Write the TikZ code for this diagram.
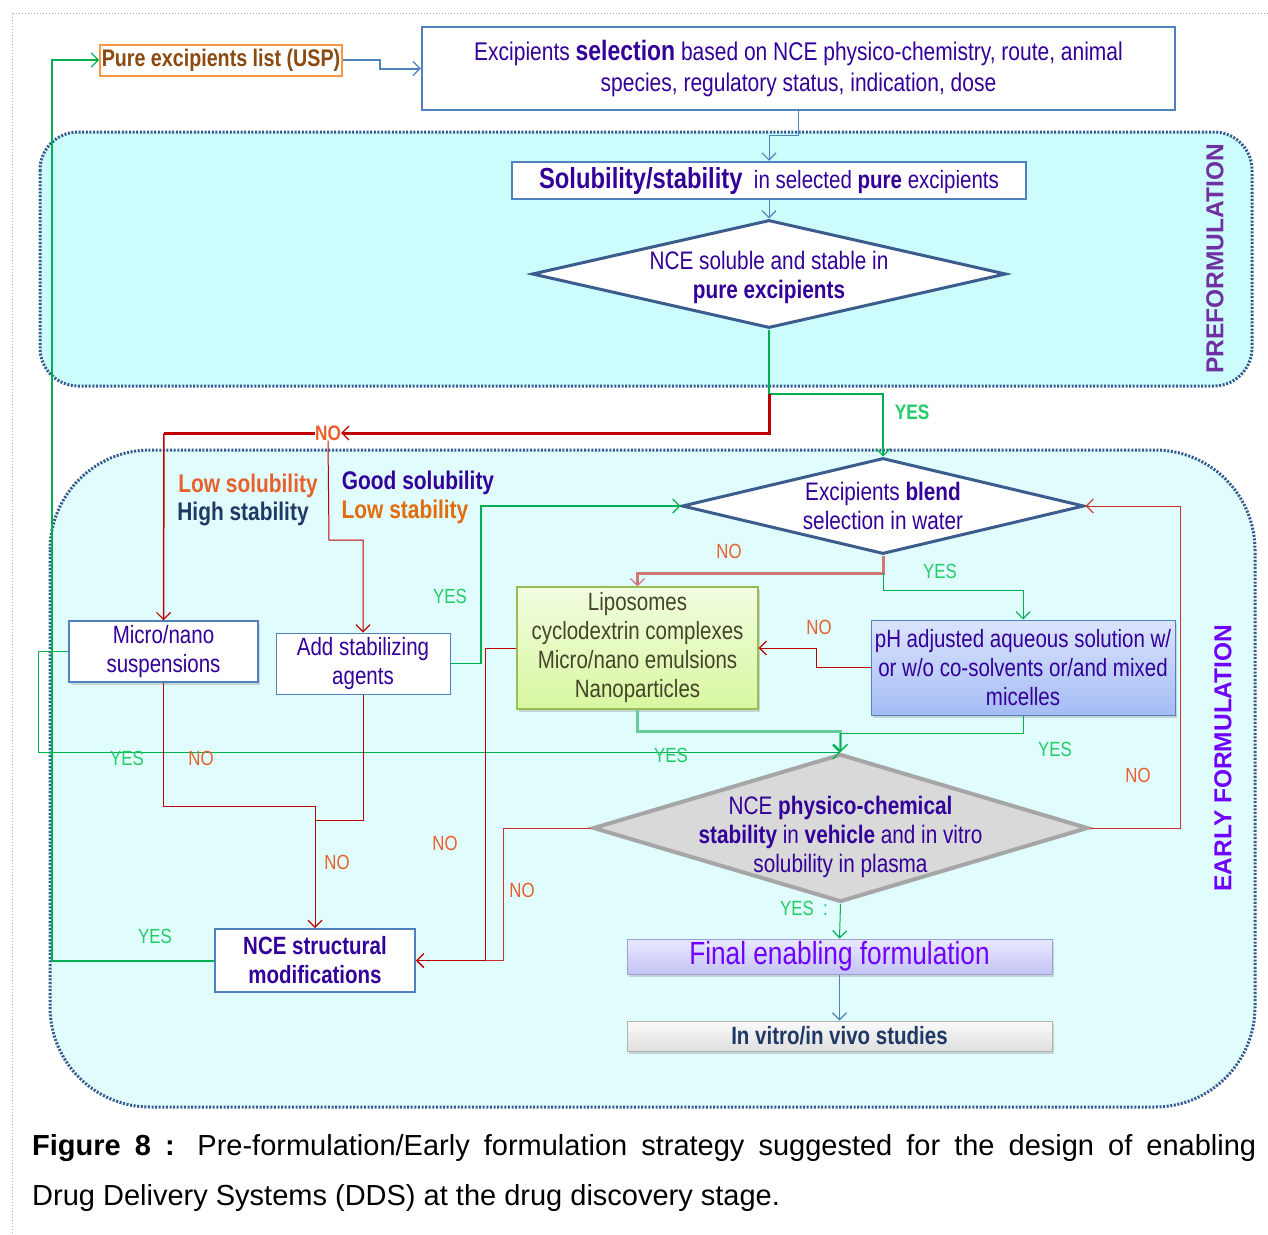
\documentclass[tikz,border=0pt]{standalone}
\usepackage{fontspec}
\setmainfont{Liberation Sans}
\newfontfamily\nar{Liberation Sans}[FakeStretch=0.82]
\usetikzlibrary{arrows.meta,shapes.geometric,shadows}
\newcommand\fsz[2]{\fontsize{#1}{#2}\selectfont}
\definecolor{ind}{HTML}{330099}
\definecolor{bbord}{HTML}{4F81BD}
\definecolor{dbord}{HTML}{3B5C8C}
\definecolor{regb}{HTML}{335A8E}
\definecolor{pref}{HTML}{CCFCFC}
\definecolor{early}{HTML}{E0FCFC}
\definecolor{gline}{HTML}{00B050}
\definecolor{glight}{HTML}{66CC99}
\definecolor{glab}{HTML}{22CC66}
\definecolor{rline}{HTML}{C00000}
\definecolor{rthin}{HTML}{D03030}
\definecolor{rpink}{HTML}{D07878}
\definecolor{olab}{HTML}{E8602C}
\definecolor{brownc}{HTML}{8B4A10}
\definecolor{orangeb}{HTML}{F79646}
\definecolor{purp}{HTML}{7030A0}
\definecolor{viol}{HTML}{7000FF}
\definecolor{navy}{HTML}{1F3864}
\definecolor{lowst}{HTML}{E36C0A}
\definecolor{olive}{HTML}{44442A}
\definecolor{lipob}{HTML}{9BBB59}
\definecolor{lipot}{HTML}{F2FDE0}
\definecolor{lipobot}{HTML}{D8F7A0}
\definecolor{pht}{HTML}{DCE4FC}
\definecolor{phb}{HTML}{A4BCF4}
\definecolor{fint}{HTML}{E8E8FF}
\definecolor{finb}{HTML}{C4C4F4}
\definecolor{finbd}{HTML}{A0A0D0}
\definecolor{d3fill}{HTML}{D9D9D9}
\definecolor{d3bord}{HTML}{A6A6A6}
\tikzset{
  box/.style={draw=bbord, fill=white, line width=1.5pt, inner sep=0pt, align=center, text=ind, font=\nar\fsz{25}{29}},
  dia/.style={diamond, draw=dbord, line width=3pt, fill=white, inner sep=0pt},
  txt/.style={align=center, text=ind, font=\nar\fsz{25.3}{29}, inner sep=0pt},
  lab/.style={font=\nar\fsz{20.5}{22}, inner sep=0pt},
  yes/.style={lab, text=glab},
  nolab/.style={lab, text=olab},
  big/.style={inner sep=0pt, font=\nar\bfseries\fsz{25.5}{28}},
  arr/.style={-{Straight Barb[length=7pt,width=14pt,line width=1.2pt]}},
  shad/.style={drop shadow={shadow xshift=2pt,shadow yshift=-3pt,opacity=0.3}}
}
\begin{document}
\begin{tikzpicture}[x=1pt,y=-1pt]
\useasboundingbox (0,0) rectangle (1268,1234);
% outer frame
\draw[gray!70, dotted, line width=1pt] (1268,13) -- (12,13) -- (12,1234);
% regions
\draw[regb, line width=3pt, dash pattern=on 2pt off 1.6pt, fill=pref, rounded corners=38pt] (40,132) rectangle (1252,386);
\draw[regb, line width=3pt, dash pattern=on 2pt off 1.6pt, fill=early, rounded corners=100pt] (50,450) rectangle (1255,1107);
\node[rotate=90, inner sep=0pt, font=\bfseries\fsz{24.5}{26}, text=purp] (plab) at (1215,259) {PREFORMULATION};
\node[rotate=90, inner sep=0pt, font=\bfseries\fsz{24.5}{26}, text=viol] (elab) at (1223,758) {EARLY FORMULATION};

% nodes
\node[box, draw=orangeb, line width=2pt, minimum width=242pt, minimum height=31pt, text=brownc, font=\nar\bfseries\fsz{24}{26}] (pure) at (221,60) {Pure excipients list (USP)};
\node[box, line width=2.5pt, minimum width=753pt, minimum height=83pt, font=\nar\fsz{25.6}{31}] (excip) at (798.5,68.5) {Excipients {\fsz{28}{31}\bfseries selection} based on NCE physico-chemistry, route, animal\\ species, regulatory status, indication, dose};
\node[box, line width=2.5pt, minimum width=514pt, minimum height=37pt] (solub) at (769,180.5) {{\fsz{29}{32}\bfseries Solubility/stability}\ \ in selected \textbf{pure} excipients};
\node[dia, minimum width=474pt, minimum height=108pt] (d1) at (769,274) {};
\node[txt] (d1t) at (769,277) {NCE soluble and stable in\\ \textbf{pure excipients}};
\node[dia, minimum width=402pt, minimum height=96pt] (blend) at (883,506) {};
\node[txt] (blendt) at (883,506) {Excipients \textbf{blend}\\ selection in water};
\node[box, shad, minimum width=189pt, minimum height=61pt] (micro) at (163.5,651.5) {Micro/nano\\ suspensions};
\node[box, line width=1pt, minimum width=174pt, minimum height=61pt] (addst) at (363,663.5) {Add stabilizing\\ agents};
\node[box, shad, draw=lipob, line width=1.2pt, top color=lipot, bottom color=lipobot, text=olive, minimum width=241pt, minimum height=122pt] (lipo) at (637.5,648) {Liposomes\\ cyclodextrin complexes\\ Micro/nano emulsions\\ Nanoparticles};
\node[box, shad, line width=1pt, top color=pht, bottom color=phb, minimum width=304pt, minimum height=95pt] (ph) at (1023,667.5) {pH adjusted aqueous solution w/\\ or w/o co-solvents or/and mixed\\ micelles};
\node[dia, fill=d3fill, draw=d3bord, line width=4pt, minimum width=495pt, minimum height=148pt] (d3) at (840.5,828) {};
\node[txt] (d3t) at (840.5,837) {NCE \textbf{physico-chemical}\\ \textbf{stability} in \textbf{vehicle} and in vitro\\ solubility in plasma};
\node[box, line width=2pt, minimum width=200pt, minimum height=63pt, font=\nar\bfseries\fsz{25}{29}] (nces) at (315,960.5) {NCE structural\\ modifications};
\node[box, shad, draw=finbd, line width=1pt, top color=fint, bottom color=finb, text=viol, minimum width=425pt, minimum height=35pt, font=\nar\fsz{32}{34}] (final) at (839.5,956.5) {Final enabling formulation};
\node[box, shad, draw=gray!60, line width=1pt, top color=gray!4, bottom color=gray!25, text=navy, minimum width=425pt, minimum height=30pt, font=\nar\bfseries\fsz{25}{28}] (invitro) at (839.5,1036) {In vitro/in vivo studies};

% side labels
\node[big, text=olab] (ls) at (248,486) {Low solubility};
\node[big, text=navy] (hs) at (243,514) {High stability};
\node[big, text=ind] (gs) at (418,483) {Good solubility};
\node[big, text=lowst] (lst) at (405,512) {Low stability};

% connectors
\draw[bbord, line width=2pt, arr] (pure.east) -- (380,60) -- (380,68.5) -- (excip.west);
\draw[bbord, line width=1pt, arr] (excip.south) |- (769,135) -- (solub.north);
\draw[bbord, line width=1pt, arr] (solub.south) -- (d1.north);
\coordinate (split1) at (769,394);
\draw[gline, line width=2.5pt, arr] (d1.south) |- (883,394) -- (blend.north);
\node[lab, font=\nar\bfseries\fsz{21}{22}, text=glab] (yes1) at (912,412) {YES};
\node[lab, font=\nar\bfseries\fsz{21}{22}, text=olab] (no1) at (328,433) {NO};
\draw[rline, line width=3pt, arr] (split1) |- (no1.east);
\draw[rline, line width=3pt] (no1.west) -- (164,433);
\draw[rline, line width=1.5pt, arr] (164,433) -- (micro.north);
\draw[rline, line width=1pt, arr] (no1.south) -- (329,540) -| (addst.north);
\draw[gline, line width=1.2pt, arr] (addst.east) -- (481,663.5) |- (blend.west);
\node[yes] (yes2) at (450,596) {YES};
\coordinate (split2) at (883,573);
\draw[rpink, line width=3pt, arr] (blend.south) -- (split2) -| (lipo.north);
\node[nolab] (no2) at (729,551) {NO};
\draw[gline, line width=1pt, arr] (split2) -- (883,590) -| (ph.north);
\node[yes] (yes3) at (940,571) {YES};
\draw[rline, line width=1pt, arr] (ph.west) -- (816,667.5) -- (816,648) -- (lipo.east);
\node[nolab] (no3) at (819,627) {NO};
\draw[glight, line width=3pt, arr] (lipo.south) |- (840.5,731) -- (d3.north);
\draw[gline, line width=1pt, arr] (ph.south) |- (840.5,733) -- (d3.north);
\draw[gline, line width=1pt, arr] (micro.west) -- (38,651.5) |- (d3.north);
\node[yes] (yes4) at (127,758) {YES};
\node[yes] (yes5) at (671,755) {YES};
\node[yes] (yes6) at (1055,749) {YES};
\draw[rline, line width=1pt, arr] (micro.south) |- (315,806) -- (nces.north);
\draw[rline, line width=1pt] (addst.south) |- (315,820);
\node[nolab] (no4) at (201,758) {NO};
\node[nolab] (no5) at (337,862) {NO};
\draw[rthin, line width=1pt, arr] (d3.west) -- (503,828) |- (nces.east);
\draw[rline, line width=1pt, arr] (lipo.west) -- (485,648) |- (nces.east);
\node[nolab] (no6) at (445,843) {NO};
\node[nolab] (no7) at (522,890) {NO};
\draw[rthin, line width=1pt, arr] (d3.east) -- (1180,828) |- (blend.east);
\node[nolab] (no8) at (1138,775) {NO};
\draw[gline, line width=1pt, arr] (d3.south) -- (final.north);
\node[yes] (yes7) at (804,908) {YES\ \ :};
\draw[bbord, line width=1pt, arr] (final.south) -- (invitro.north);
\draw[gline, line width=2pt, arr] (nces.west) -- (52,960.5) |- (pure.west);
\node[yes] (yes8) at (155,936) {YES};

% caption
\node[anchor=north west, text width=1224pt, align=justify, inner sep=0pt, font=\fsz{29}{50}] (cap) at (32,1134) {\textbf{Figure 8 :} Pre-formulation/Early formulation strategy suggested for the design of enabling\linebreak Drug Delivery Systems (DDS) at the drug discovery stage.};
\end{tikzpicture}
\end{document}
